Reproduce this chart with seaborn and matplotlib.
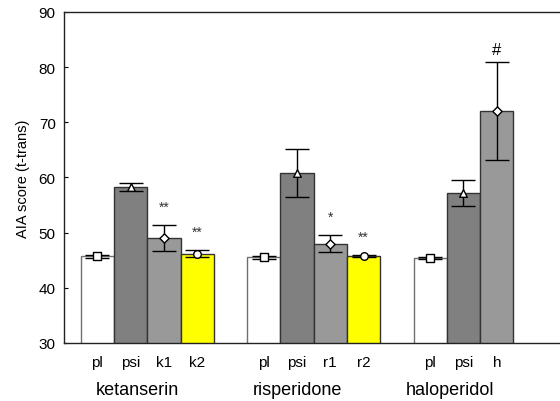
import numpy as np
import pandas as pd
import matplotlib
matplotlib.use('Agg')
import matplotlib.pyplot as plt
import seaborn as sns

# Data
groups = ['ketanserin', 'risperidone', 'haloperidol']
conditions = ['pl', 'psi', 'k1', 'k2', 'pl', 'psi', 'r1', 'r2', 'pl', 'psi', 'h']
group_of = ['ketanserin'] * 4 + ['risperidone'] * 4 + ['haloperidol'] * 3
means = [45.7, 58.3, 49.0, 46.2, 45.5, 60.8, 48.0, 45.7, 45.4, 57.2, 72.1]
errors = [0.3, 0.7, 2.3, 0.7, 0.2, 4.3, 1.5, 0.2, 0.2, 2.3, 8.9]
markers = ['s', '^', 'D', 'o', 's', '^', 'D', 'o', 's', '^', 'D']
signif = ['', '', '**', '**', '', '', '*', '**', '', '', '#']

positions = [0, 1, 2, 3, 5, 6, 7, 8, 10, 11, 12]
cond_colors = {'pl': '#ffffff', 'psi': '#808080', 'k1': '#999999', 'k2': '#ffff00',
               'r1': '#999999', 'r2': '#ffff00', 'h': '#999999'}

df = pd.DataFrame({'pos': positions, 'mean': means, 'err': errors,
                   'cond': conditions, 'group': group_of})
df['bar_id'] = [f'{g}_{c}' for g, c in zip(group_of, conditions)]
palette = {b: cond_colors[c] for b, c in zip(df['bar_id'], df['cond'])}

plt.rcParams['font.family'] = ['Liberation Sans', 'DejaVu Sans']
fig = plt.figure(figsize=(5.6, 4.02), dpi=100)
# axes runs off the right edge of the image, like the reference
ax = fig.add_axes([0.1143, 0.1443, 0.8857, 0.8234])

sns.barplot(data=df, x='pos', y='mean', hue='bar_id', palette=palette,
            native_scale=True, dodge=False, width=1.0, errorbar=None,
            saturation=1, legend=False, ax=ax, zorder=2)

for patch, c in zip(ax.patches, df['cond']):
    patch.set_edgecolor('#707070' if c == 'pl' else '#333333')
    patch.set_linewidth(1.0)

ax.errorbar(df['pos'], df['mean'], yerr=df['err'], fmt='none', ecolor='black',
            elinewidth=1.0, capsize=8.5, capthick=1.0, zorder=3)

for m in ['s', '^', 'D', 'o']:
    sel = df[[mk == m for mk in markers]]
    ax.scatter(sel['pos'], sel['mean'], marker=m, s=30 if m != 'D' else 22,
               facecolor='white', edgecolor='black', linewidth=1.0, zorder=4)

for x, y, e, s in zip(df['pos'], df['mean'], df['err'], signif):
    if not s:
        continue
    if s == '#':
        ax.text(x, y + e + 1.3, s, ha='center', va='baseline', fontsize=12)
    else:
        ax.text(x, y + e + 2.6, s, ha='center', va='baseline', fontsize=10,
                color='#333333')

ax.set_ylim(30, 90)
ax.set_xlim(-1.0, 13.9)
ax.set_yticks(range(30, 91, 10))
ax.set_xticks(positions)
ax.set_xticklabels(conditions)
ax.tick_params(axis='x', length=0, labelsize=11, pad=9)
ax.tick_params(axis='y', length=3, direction='in', labelsize=11, pad=6)
ax.set_xlabel('')
ax.set_ylabel('AIA score (t-trans)', fontsize=10.5, labelpad=6)
ax.spines['right'].set_visible(False)
for sp in ['left', 'top', 'bottom']:
    ax.spines[sp].set_linewidth(1.0)
    ax.spines[sp].set_color('#222222')

label_pos = [1.2, 6.0, 10.6]
for g, x in zip(groups, label_pos):
    ax.text(x, -0.142, g, transform=ax.get_xaxis_transform(), ha='center',
            va='center', fontsize=13)

fig.savefig('out.png', dpi=100)
